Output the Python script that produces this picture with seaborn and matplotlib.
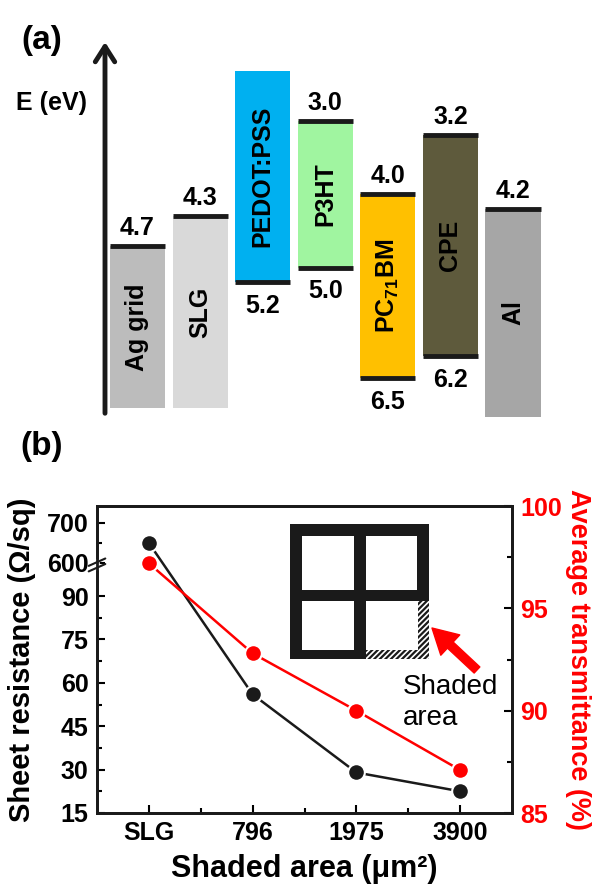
import numpy as np
import matplotlib
matplotlib.use('Agg')
import matplotlib.pyplot as plt
import seaborn as sns
from matplotlib.patches import Rectangle

# ---------------- (a) energy level diagram ----------------
layers = ['Ag grid', 'SLG', 'PEDOT:PSS', 'P3HT', 'PC$_{\\mathbf{71}}$BM', 'CPE', 'Al']
layer_colors = ['#bcbcbc', '#d9d9d9', '#00b0f0', '#a0f5a0', '#ffc000', '#5e5a3c', '#a6a6a6']
top_level = [4.7, 4.3, 2.32, 3.0, 4.0, 3.2, 4.2]      # eV (PEDOT top not labelled)
bottom_level = [6.91, 6.91, 5.2, 5.0, 6.5, 6.2, 7.03]  # eV (electrodes run to the bottom)
top_label = ['4.7', '4.3', '', '3.0', '4.0', '3.2', '4.2']
bottom_label = ['', '', '5.2', '5.0', '6.5', '6.2', '']

# ---------------- (b) sheet resistance / transmittance ----------------
areas = ['SLG', '796', '1975', '3900']
sheet_res = [650, 56, 29, 22.5]
transmittance = [97.2, 92.8, 90.0, 87.1]
res_ticks = [15, 30, 45, 60, 75, 90, 600, 700]
res_minor = [22.5, 37.5, 52.5, 67.5, 82.5, 650]
trans_ticks = [85, 90, 95, 100]
trans_minor = [87.5, 92.5, 97.5]

sns.set_theme(style='ticks')
plt.rcParams['font.family'] = ['Liberation Sans', 'DejaVu Sans']
plt.rcParams['text.color'] = 'black'
plt.rcParams['axes.labelcolor'] = 'black'
plt.rcParams['xtick.color'] = 'black'
plt.rcParams['ytick.color'] = 'black'
plt.rcParams['mathtext.fontset'] = 'custom'
plt.rcParams['mathtext.rm'] = 'Liberation Sans:bold'
plt.rcParams['mathtext.bf'] = 'Liberation Sans:bold'
plt.rcParams['hatch.linewidth'] = 1.6

fig = plt.figure(figsize=(5.92, 8.84), dpi=100)

# panel (a)
ax_a = fig.add_axes([105/592, 1-417/884, 455/592, 375/884])
xa = np.arange(len(layers))
w = 0.88
ax_a.bar(xa, np.subtract(bottom_level, top_level), bottom=top_level, width=w,
         color=layer_colors, edgecolor='none')
for i in range(len(layers)):
    if top_label[i]:
        ax_a.hlines(top_level[i], i - w/2, i + w/2, color='k', lw=3.5)
        ax_a.annotate(top_label[i], (i, top_level[i]), xytext=(0, 13), textcoords='offset points',
                      ha='center', va='center', fontsize=18, fontweight='bold')
    if bottom_label[i]:
        ax_a.hlines(bottom_level[i], i - w/2, i + w/2, color='k', lw=3.5)
        ax_a.annotate(bottom_label[i], (i, bottom_level[i]), xytext=(0, -17), textcoords='offset points',
                      ha='center', va='center', fontsize=18, fontweight='bold')
    ax_a.text(i, (top_level[i] + bottom_level[i]) / 2, layers[i], rotation=90, ha='center',
              va='center', fontsize=18, fontweight='bold')
ax_a.set_xlim(-0.519, 6.751)
ax_a.set_ylim(7.03, 1.93)
ax_a.axis('off')
ax_a.annotate('', xy=(0, 1), xytext=(0, 0.01), xycoords='axes fraction',
              arrowprops=dict(arrowstyle='->,head_length=1.1,head_width=0.7', lw=3.5,
                              color='k', mutation_scale=10, shrinkA=0, shrinkB=0))
fig.text(52/592, 1-103/884, 'E (eV)', ha='center', va='center', fontsize=18, fontweight='bold')
fig.text(42/592, 1-40/884, '(a)', ha='center', va='center', fontsize=24, fontweight='bold')
fig.text(42/592, 1-446/884, '(b)', ha='center', va='center', fontsize=24, fontweight='bold')


# panel (b): broken left axis via piecewise scale
def fwd(v):
    v = np.asarray(v, dtype=float)
    return np.where(v <= 100, (v - 15) * 2.893, 246 + (np.clip(v, 590, None) - 590) * 0.4)


def inv(y):
    y = np.asarray(y, dtype=float)
    return np.where(y <= 246, 15 + y / 2.893, 590 + (y - 246) / 0.4)


ax_b = fig.add_axes([97/592, 1-813/884, 415/592, 307/884])
ax_b.set_yscale('function', functions=(fwd, inv))
xb = np.arange(len(areas))
sns.lineplot(x=xb, y=sheet_res, ax=ax_b, color='k', lw=1.8, marker='o', markersize=12,
             markeredgecolor='white', markeredgewidth=1.5)
ax_b.set_xlim(-0.5, 3.5)
ax_b.set_ylim(15, 742.5)
ax_b.set_xticks(xb, labels=areas)
ax_b.set_xticks([0.5, 1.5, 2.5], minor=True)
ax_b.set_yticks(res_ticks, labels=[str(t) for t in res_ticks])
ax_b.set_yticks(res_minor, minor=True)
ax_b.tick_params(which='both', direction='in', width=1.5, labelsize=18, pad=6)
ax_b.tick_params(which='major', length=6)
ax_b.tick_params(which='minor', length=3.5)
for lab in ax_b.get_xticklabels() + ax_b.get_yticklabels():
    lab.set_fontweight('bold')
ax_b.set_xlabel('Shaded area (μm²)', fontsize=22, fontweight='bold', labelpad=6)
ax_b.set_ylabel('Sheet resistance (Ω/sq)', fontsize=21, fontweight='bold', labelpad=8)

ax_r = ax_b.twinx()
sns.lineplot(x=xb, y=transmittance, ax=ax_r, color='red', lw=1.8, marker='o', markersize=12,
             markeredgecolor='white', markeredgewidth=1.5)
ax_r.set_ylim(85, 100)
ax_r.set_yticks(trans_ticks, labels=[str(t) for t in trans_ticks])
ax_r.set_yticks(trans_minor, minor=True)
ax_r.tick_params(which='both', direction='in', width=1.5, labelsize=18, pad=6, labelcolor='red')
ax_r.tick_params(which='major', length=6)
ax_r.tick_params(which='minor', length=3.5)
for lab in ax_r.get_yticklabels():
    lab.set_fontweight('bold')
ax_r.set_ylabel('Average transmittance (%)', fontsize=19.5, fontweight='bold', color='red',
                rotation=270, va='bottom', labelpad=2)
for a in (ax_b, ax_r):
    for s in a.spines.values():
        s.set_linewidth(2)
        s.set_color('k')

# break mark on left spine
yb = 0.808
ax_b.plot([0, 0], [yb - 0.009, yb + 0.009], transform=ax_b.transAxes, color='white', lw=4,
          clip_on=False, zorder=5)
for dy in (-0.009, 0.009):
    ax_b.plot([-0.02, 0.02], [yb + dy - 0.012, yb + dy + 0.012], transform=ax_b.transAxes,
              color='k', lw=1.5, clip_on=False, zorder=6)

# inset grid schematic
ax_in = fig.add_axes([290/592, 1-659/884, 139/592, 135/884])
ax_in.set_xlim(0, 139)
ax_in.set_ylim(135, 0)
ax_in.axis('off')
for (x0, y0, ww, hh) in [(0, 0, 139, 12), (0, 0, 12, 135), (64, 0, 12, 135), (0, 66, 139, 11),
                         (127, 0, 12, 77), (0, 126, 76, 9)]:
    ax_in.add_patch(Rectangle((x0, y0), ww, hh, facecolor='k', edgecolor='none'))
for (x0, y0, ww, hh) in [(128, 77, 11, 58), (76, 126, 63, 9)]:
    ax_in.add_patch(Rectangle((x0, y0), ww, hh, facecolor='white', edgecolor='k', lw=0,
                              hatch='//////'))

ax_b.annotate('', xy=(432/592, 1-628/884), xytext=(477/592, 1-670/884),
              xycoords='figure fraction',
              arrowprops=dict(facecolor='red', edgecolor='red', width=6, headwidth=20,
                              headlength=18, shrink=0))
fig.text(403/592, 1-674/884, 'Shaded\narea', ha='left', va='top', fontsize=20, linespacing=1.25)

fig.savefig('out.png', dpi=100)
